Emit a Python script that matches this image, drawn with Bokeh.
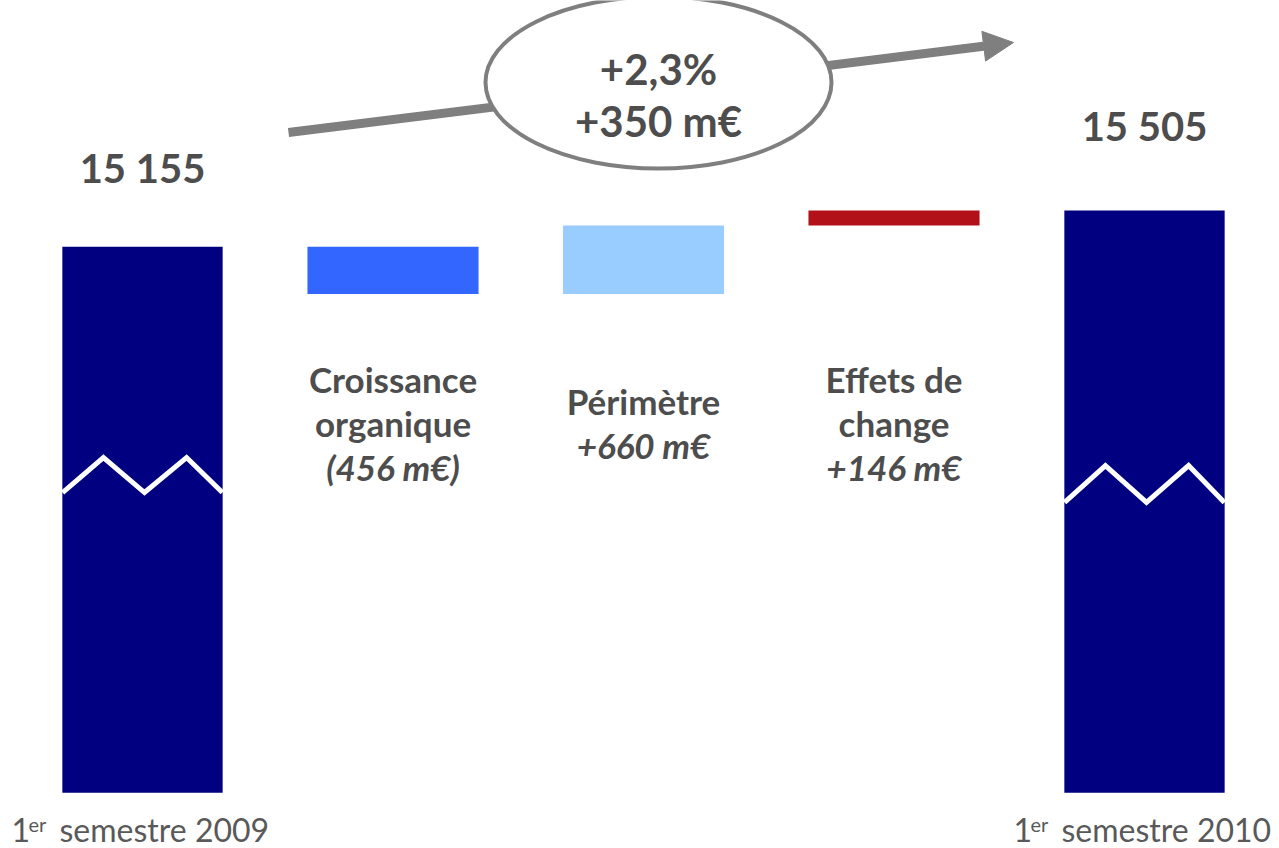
from bokeh.plotting import figure
from bokeh.models import Range1d, Arrow, NormalHead, ColumnDataSource
from bokeh.core.properties import value
from bokeh.embed import file_html
from bokeh.resources import INLINE

# ---- data (m€) ----
start_label = "1er semestre 2009"
end_label = "1er semestre 2010"
start_value = 15155
end_value = 15505
step_names = [["Croissance", "organique"], ["Périmètre"], ["Effets de", "change"]]
step_values = [-456, 660, 146]
step_texts = ["(456 m€)", "+660 m€", "+146 m€"]
total_change_pct = "+2,3%"
total_change_abs = "+350 m€"

# ---- layout constants ----
W, H = 1279, 848
PX_PER_X = 250.5          # pixels per category slot
X0_PX = 142               # pixel position of the first category
PX_PER_UNIT = 0.1035      # vertical pixels per m€ (broken axis)
BASE = 9880               # visual base of the truncated totals
Y_TOP = end_value + 210 / PX_PER_UNIT
Y_BOT = end_value - (H - 210) / PX_PER_UNIT

NAVY = "#000080"
STEP_COLORS = ["#3366FF", "#99CCFF", "#B3111A"]
TXT = "#4D4D4D"
GREY = "#7F7F7F"
FONT = value("Lato")

p = figure(width=W, height=H, output_backend="svg", toolbar_location=None,
           x_range=Range1d(-X0_PX / PX_PER_X, (W - X0_PX) / PX_PER_X),
           y_range=Range1d(Y_BOT, Y_TOP),
           x_axis_type=None, y_axis_type=None, min_border=0)
p.grid.visible = False
p.outline_line_color = None
p.background_fill_color = "white"
p.border_fill_color = "white"


def px_x(px):
    return (px - X0_PX) / PX_PER_X


def px_y(py):
    return end_value + (210 - py) / PX_PER_UNIT


# ---- waterfall geometry ----
n_steps = len(step_values)
xs_steps = [i + 1 for i in range(n_steps)]
tops, bottoms = [], []
level = start_value
for v in step_values:
    new = level + v
    tops.append(max(level, new))
    bottoms.append(min(level, new))
    level = new
x_end = n_steps + 1

# overall growth arrow (drawn beneath the ellipse)
p.add_layout(Arrow(x_start=px_x(288), y_start=px_y(132),
                   x_end=px_x(1013), y_end=px_y(42),
                   line_color=GREY, line_width=9, level="underlay",
                   end=NormalHead(size=30, fill_color=GREY, line_color=GREY)))

# totals (truncated bars)
p.vbar(x=[0, x_end], top=[start_value, end_value], bottom=BASE, width=0.64,
       fill_color=NAVY, line_color=None)

# intermediate steps
p.vbar(x=xs_steps, top=tops, bottom=bottoms, width=[0.683, 0.643, 0.683],
       fill_color=STEP_COLORS, line_color=None)

# axis-break zigzags across the totals
zx = [-0.319, -0.156, 0.008, 0.176, 0.319]
zig_levels = [(12780, 13118), (12684, 13041)]
zig_xs, zig_ys = [], []
for cx, (lo, hi) in zip([0, x_end], zig_levels):
    zig_xs.append([cx + d for d in zx])
    zig_ys.append([lo, hi, lo, hi, lo])
p.multi_line(xs=zig_xs, ys=zig_ys, line_color="white", line_width=5,
             line_join="miter")

# total labels above the totals
p.text(x=[0, x_end], y=[start_value, end_value],
       text=[f"{start_value:,}".replace(",", " "), f"{end_value:,}".replace(",", " ")],
       y_offset=[-79, -85], text_align="center", text_baseline="middle",
       text_font=FONT, text_font_style="bold", text_font_size="40px",
       text_color=TXT)

# step labels
LABEL_Y = px_y(422)
LINE = 44
lx, ly, lt, loff, lstyle = [], [], [], [], []
for i, (names, t) in enumerate(zip(step_names, step_texts)):
    lines = names + [t]
    n = len(lines)
    for j, s in enumerate(lines):
        lx.append(xs_steps[i])
        ly.append(LABEL_Y)
        lt.append(s)
        loff.append((j - (n - 1) / 2) * LINE)
        lstyle.append("bold italic" if j == n - 1 else "bold")
src = ColumnDataSource(dict(x=lx, y=ly, text=lt, off=loff, style=lstyle))
p.text(x="x", y="y", text="text", y_offset="off", text_font_style="style",
       source=src, text_align="center", text_baseline="middle",
       text_font=FONT, text_font_size="35px", text_color=TXT)

# category labels under the totals, with superscript
for cx, lab in zip([0, x_end], [start_label, end_label]):
    num, rest = lab.split(" ", 1)
    sup = num[1:]
    p.text(x=[cx], y=[BASE], text=[num[0]], x_offset=-131, y_offset=37,
           text_align="left", text_baseline="middle", text_font=FONT,
           text_font_size="32px", text_color="#595959")
    p.text(x=[cx], y=[BASE], text=[sup], x_offset=-114, y_offset=31,
           text_align="left", text_baseline="middle", text_font=FONT,
           text_font_size="20px", text_color="#595959")
    p.text(x=[cx], y=[BASE], text=[rest], x_offset=-83, y_offset=37,
           text_align="left", text_baseline="middle", text_font=FONT,
           text_font_size="32px", text_color="#595959")

# ellipse with the total change
ex, ey = px_x(658), px_y(82)
p.ellipse(x=[ex], y=[ey], width=346, height=172, width_units="screen",
          height_units="screen", fill_color="white", line_color=GREY,
          line_width=4)
p.text(x=[ex, ex], y=[ey, ey], text=[total_change_pct, total_change_abs],
       y_offset=[-14, 38], text_align="center", text_baseline="middle",
       text_font=FONT, text_font_style="bold", text_font_size="42px",
       text_color=TXT)

open("out.html", "w").write(file_html(p, INLINE))
